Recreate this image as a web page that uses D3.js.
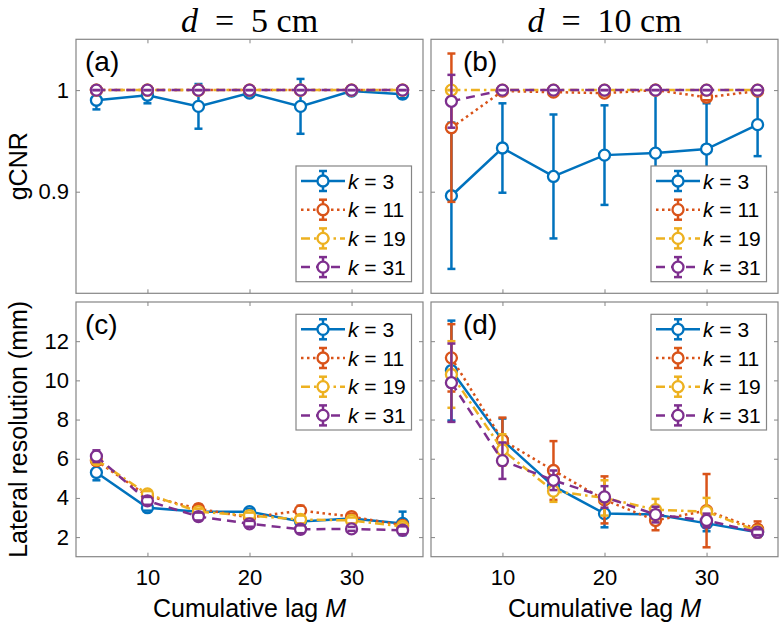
<!DOCTYPE html>
<html>
<head>
<meta charset="utf-8">
<script src="https://cdn.jsdelivr.net/npm/d3@7"></script>
<style>
  body { margin: 0; background: #fff; }
  text { font-family: "Liberation Sans", Arial, sans-serif; fill: #000; }
</style>
</head>
<body>
<svg id="chart" width="780" height="627"></svg>
<script>
// ---- data ----
const lags = [5, 10, 15, 20, 25, 30, 35];
const kValues = ["3", "11", "19", "31"];
const xTicks = [10, 20, 30];
const gcnrTicks = [0.9, 1];
const resTicks = [2, 4, 6, 8, 10, 12];

// (a) gCNR, d = 5 cm
const gcnr5Mean = [
  [0.990, 0.995, 0.984, 0.997, 0.984, 0.999, 0.996],
  [1, 1, 1, 1, 1, 1, 1],
  [1, 1, 1, 1, 1, 1, 1],
  [1, 1, 1, 1, 1, 1, 1]
];
const gcnr5Err = [
  [0.009, 0.008, 0.022, 0.003, 0.027, 0.002, 0.004],
  [0, 0, 0, 0, 0, 0, 0],
  [0, 0, 0, 0, 0, 0, 0],
  [0, 0, 0, 0, 0, 0, 0]
];
// (b) gCNR, d = 10 cm
const gcnr10Mean = [
  [0.896, 0.943, 0.915, 0.936, 0.938, 0.942, 0.966],
  [0.963, 0.999, 0.998, 0.997, 1.000, 0.993, 0.999],
  [1, 1, 1, 1, 1, 1, 1],
  [0.989, 1, 1, 1, 1, 1, 1]
];
const gcnr10Err = [
  [0.072, 0.044, 0.061, 0.049, 0.061, 0.045, 0.031],
  [0.073, 0.001, 0.001, 0.002, 0, 0.003, 0.001],
  [0, 0, 0, 0, 0, 0, 0],
  [0.026, 0, 0, 0, 0, 0, 0]
];
// (c) lateral resolution, d = 5 cm
const res5Mean = [
  [5.30, 3.50, 3.30, 3.30, 2.80, 2.95, 2.70],
  [5.90, 4.10, 3.45, 3.00, 3.35, 3.05, 2.60],
  [5.95, 4.20, 3.30, 3.10, 2.90, 2.85, 2.55],
  [6.13, 3.85, 3.05, 2.68, 2.40, 2.42, 2.35]
];
const res5Err = [
  [0.40, 0.15, 0.35, 0.15, 0.15, 0.15, 0.60],
  [0.20, 0.15, 0.20, 0.15, 0.25, 0.15, 0.15],
  [0.20, 0.15, 0.15, 0.15, 0.20, 0.15, 0.15],
  [0.30, 0.20, 0.20, 0.15, 0.20, 0.10, 0.20]
];
// (d) lateral resolution, d = 10 cm
const res10Mean = [
  [10.50, 6.95, 4.60, 3.20, 3.15, 2.70, 2.25],
  [11.15, 6.95, 5.40, 3.90, 2.85, 3.35, 2.40],
  [10.30, 6.45, 4.35, 4.00, 3.40, 3.30, 2.30],
  [9.88, 5.90, 4.90, 4.05, 3.15, 2.85, 2.25]
];
const res10Err = [
  [2.55, 1.10, 0.45, 0.70, 0.35, 0.40, 0.20],
  [1.72, 1.15, 1.50, 1.20, 0.50, 1.87, 0.40],
  [1.70, 0.80, 0.55, 0.90, 0.55, 0.70, 0.25],
  [2.00, 0.93, 0.50, 0.55, 0.40, 0.35, 0.15]
];

// ---- styles ----
const colors = ["#0072BD", "#D95319", "#EDB120", "#7E2F8E"];
const dashes = [null, "2.5,3.5", "9,4,2.5,4", "9,6"];
const axisColor = "#858585";

const svg = d3.select("#chart");
const cols = [{ x0: 76, x1: 423 }, { x0: 431, x1: 778 }];
const rows = [{ y0: 39.3, y1: 293.3 }, { y0: 302, y1: 556.7 }];

const panels = [
  { tag: "(a)", c: 0, r: 0, tagX: 9, mean: gcnr5Mean, err: gcnr5Err, domain: [0.8, 1.05], ticks: gcnrTicks },
  { tag: "(b)", c: 1, r: 0, tagX: 32, mean: gcnr10Mean, err: gcnr10Err, domain: [0.8, 1.05], ticks: gcnrTicks },
  { tag: "(c)", c: 0, r: 1, tagX: 9, mean: res5Mean, err: res5Err, domain: [1, 14], ticks: resTicks },
  { tag: "(d)", c: 1, r: 1, tagX: 32, mean: res10Mean, err: res10Err, domain: [1, 14], ticks: resTicks }
];

panels.forEach(p => {
  const col = cols[p.c], row = rows[p.r];
  const x = d3.scaleLinear().domain([3, 37]).range([col.x0, col.x1]);
  const y = d3.scaleLinear().domain(p.domain).range([row.y1, row.y0]);
  const g = svg.append("g");

  // axes: inward ticks on all four sides
  const showX = p.r === 1, showY = p.c === 0;
  const ax = [
    g.append("g").attr("transform", `translate(0,${row.y1})`)
      .call(d3.axisBottom(x).tickValues(xTicks).tickSize(-4).tickPadding(13)
        .tickFormat(showX ? d3.format("d") : "")),
    g.append("g").attr("transform", `translate(0,${row.y0})`)
      .call(d3.axisTop(x).tickValues(xTicks).tickSize(-4).tickFormat("")),
    g.append("g").attr("transform", `translate(${col.x0},0)`)
      .call(d3.axisLeft(y).tickValues(p.ticks).tickSize(-4).tickPadding(7)
        .tickFormat(showY ? d3.format("~g") : "")),
    g.append("g").attr("transform", `translate(${col.x1},0)`)
      .call(d3.axisRight(y).tickValues(p.ticks).tickSize(-4).tickFormat(""))
  ];
  ax.forEach(a => {
    a.select(".domain").remove();
    a.selectAll(".tick line").attr("stroke", axisColor);
    a.selectAll(".tick text").style("font-size", "22px").attr("fill", "#000");
  });
  g.append("rect")
    .attr("x", col.x0).attr("y", row.y0)
    .attr("width", col.x1 - col.x0).attr("height", row.y1 - row.y0)
    .attr("fill", "none").attr("stroke", axisColor).attr("stroke-width", 1.2);

  // series
  const line = d3.line().x((d, i) => x(lags[i])).y(d => y(d));
  p.mean.forEach((vals, s) => {
    const sg = g.append("g");
    const errs = p.err[s];
    sg.append("path").datum(vals)
      .attr("d", line)
      .attr("fill", "none")
      .attr("stroke", colors[s])
      .attr("stroke-width", 2.5)
      .attr("stroke-dasharray", dashes[s]);
    sg.selectAll(".bar").data(vals).enter().append("line")
      .attr("x1", (d, i) => x(lags[i])).attr("x2", (d, i) => x(lags[i]))
      .attr("y1", (d, i) => y(d - errs[i])).attr("y2", (d, i) => y(d + errs[i]))
      .attr("stroke", colors[s]).attr("stroke-width", 2.5);
    sg.selectAll(".mk").data(vals).enter().append("circle")
      .attr("cx", (d, i) => x(lags[i])).attr("cy", d => y(d))
      .attr("r", 5.5)
      .attr("fill", "#fff").attr("stroke", colors[s]).attr("stroke-width", 2.3);
    [-1, 1].forEach(sign => {
      sg.selectAll(".cap" + sign).data(vals).enter().append("line")
        .attr("x1", (d, i) => x(lags[i]) - 4).attr("x2", (d, i) => x(lags[i]) + 4)
        .attr("y1", (d, i) => y(d + sign * errs[i])).attr("y2", (d, i) => y(d + sign * errs[i]))
        .attr("stroke", colors[s]).attr("stroke-width", 2.5);
    });
  });

  // panel tag
  g.append("text").attr("x", col.x0 + p.tagX).attr("y", row.y0 + 32)
    .style("font-size", "28px").text(p.tag);

  // legend
  const lx = col.x0 + 220;
  const ltop = p.r === 0 ? 166 : 314.3;
  const lg = g.append("g").attr("transform", `translate(${lx},${ltop})`);
  lg.append("rect").attr("width", 115.5).attr("height", 115.7)
    .attr("fill", "#fff").attr("stroke", axisColor).attr("stroke-width", 1.2);
  kValues.forEach((k, s) => {
    const cy = 15 + s * 28.7;
    const e = lg.append("g").attr("transform", `translate(0,${cy})`);
    e.append("line").attr("x1", 5).attr("x2", 49).attr("y1", 0).attr("y2", 0)
      .attr("stroke", colors[s]).attr("stroke-width", 2.5)
      .attr("stroke-dasharray", dashes[s]);
    e.append("line").attr("x1", 27).attr("x2", 27).attr("y1", -10).attr("y2", 10)
      .attr("stroke", colors[s]).attr("stroke-width", 2.5);
    e.append("circle").attr("cx", 27).attr("cy", 0).attr("r", 5.5)
      .attr("fill", "#fff").attr("stroke", colors[s]).attr("stroke-width", 2.3);
    [-10, 10].forEach(dy => e.append("line")
      .attr("x1", 23).attr("x2", 31).attr("y1", dy).attr("y2", dy)
      .attr("stroke", colors[s]).attr("stroke-width", 2.5));
    const t = e.append("text").attr("x", 52).attr("y", 7.5).style("font-size", "21px")
      .style("white-space", "pre");
    t.append("tspan").style("font-style", "italic").text("k");
    t.append("tspan").text(" = " + k);
  });
});

// column titles
[["5", cols[0]], ["10", cols[1]]].forEach(([dist, col]) => {
  const t = svg.append("text")
    .attr("x", (col.x0 + col.x1) / 2).attr("y", 32)
    .attr("text-anchor", "middle")
    .style("font-family", "'Liberation Serif', 'DejaVu Serif', serif")
    .style("font-size", "34px")
    .style("white-space", "pre");
  t.append("tspan").style("font-style", "italic").text("d");
  t.append("tspan").text("  =  " + dist + " cm");
});

// axis labels
cols.forEach(col => {
  const t = svg.append("text")
    .attr("x", (col.x0 + col.x1) / 2).attr("y", 617)
    .attr("text-anchor", "middle").style("font-size", "25px");
  t.append("tspan").text("Cumulative lag ");
  t.append("tspan").style("font-style", "italic").text("M");
});
svg.append("text")
  .attr("transform", `translate(27,${(rows[0].y0 + rows[0].y1) / 2}) rotate(-90)`)
  .attr("text-anchor", "middle").style("font-size", "25px").text("gCNR");
svg.append("text")
  .attr("transform", `translate(27,${(rows[1].y0 + rows[1].y1) / 2}) rotate(-90)`)
  .attr("text-anchor", "middle").style("font-size", "25px").text("Lateral resolution (mm)");
</script>
</body>
</html>
